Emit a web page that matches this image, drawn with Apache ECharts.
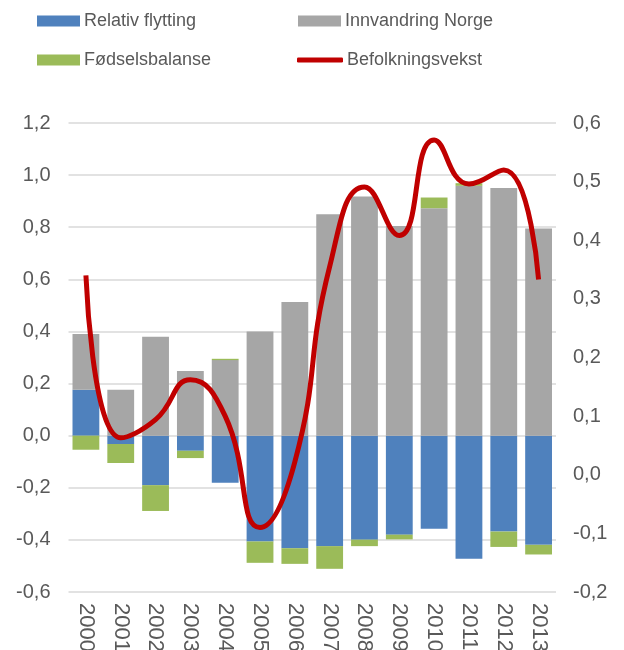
<!DOCTYPE html>
<html>
<head>
<meta charset="utf-8">
<script src="https://cdn.jsdelivr.net/npm/echarts@6/dist/echarts.min.js"></script>
<style>
  html, body { margin: 0; padding: 0; background: #fff; }
  #chart { width: 624px; height: 650px; }
</style>
</head>
<body>
<div id="chart"></div>
<script>
var years = ['2000', '2001', '2002', '2003', '2004', '2005', '2006', '2007', '2008', '2009', '2010', '2011', '2012', '2013'];
var relativFlytting = [0.176, -0.032, -0.19, -0.058, -0.181, -0.406, -0.432, -0.424, -0.399, -0.38, -0.357, -0.472, -0.368, -0.419];
var innvandring = [0.214, 0.176, 0.38, 0.248, 0.29, 0.40, 0.513, 0.85, 0.918, 0.805, 0.873, 0.959, 0.951, 0.795];
var fodselsbalanse = [-0.054, -0.073, -0.099, -0.028, 0.005, -0.082, -0.06, -0.087, -0.025, -0.018, 0.041, 0.01, -0.059, -0.037];
var befolkningsvekst = [0.34, 0.063, 0.094, 0.162, 0.10, -0.09, 0.022, 0.355, 0.491, 0.408, 0.571, 0.496, 0.52, 0.333];

var font = 'Liberation Sans, Arial, sans-serif';
var textColor = '#595959';

function comma(v) {
    return v.toFixed(1).replace('.', ',');
}

function legendAt(name, left, top, w, h, icon) {
    return {
        data: [{ name: name, icon: icon }],
        left: left,
        top: top,
        itemWidth: w,
        itemHeight: h,
        itemGap: 0,
        padding: 0,
        selectedMode: false,
        textStyle: { fontFamily: font, fontSize: 18, color: textColor, padding: [0, 0, 0, -1] }
    };
}

var myChart = echarts.init(document.getElementById('chart'), null, { renderer: 'canvas' });

var option = {
    animation: false,
    legend: [
        legendAt('Relativ flytting', 37, 12, 43, 11, 'rect'),
        legendAt('Innvandring Norge', 298, 12, 43, 11, 'rect'),
        legendAt('Fødselsbalanse', 37, 51, 43, 11, 'rect'),
        legendAt('Befolkningsvekst', 297, 51, 46, 5, 'roundRect')
    ],
    grid: { left: 68.5, right: 68, top: 123, bottom: 58, containLabel: false, outerBoundsMode: 'none' },
    xAxis: {
        type: 'category',
        data: years,
        axisLine: { show: false },
        axisTick: { show: false },
        axisLabel: {
            rotate: -90,
            margin: 11,
            fontFamily: font,
            fontSize: 22,
            color: textColor
        }
    },
    yAxis: [
        {
            type: 'value',
            min: -0.6,
            max: 1.2,
            interval: 0.2,
            axisLine: { show: false },
            axisTick: { show: false },
            splitLine: { lineStyle: { color: '#d9d9d9', width: 1.5 } },
            axisLabel: { formatter: comma, margin: 18, fontFamily: font, fontSize: 20, color: textColor }
        },
        {
            type: 'value',
            min: -0.2,
            max: 0.6,
            interval: 0.1,
            axisLine: { show: false },
            axisTick: { show: false },
            splitLine: { show: false },
            axisLabel: { formatter: comma, margin: 17, fontFamily: font, fontSize: 20, color: textColor }
        }
    ],
    series: [
        {
            name: 'Relativ flytting',
            type: 'bar',
            stack: 'tot',
            barCategoryGap: '23%',
            itemStyle: { color: '#4f81bd' },
            data: relativFlytting
        },
        {
            name: 'Innvandring Norge',
            type: 'bar',
            stack: 'tot',
            itemStyle: { color: '#a6a6a6' },
            data: innvandring
        },
        {
            name: 'Fødselsbalanse',
            type: 'bar',
            stack: 'tot',
            itemStyle: { color: '#9bbb59' },
            data: fodselsbalanse
        },
        {
            name: 'Befolkningsvekst',
            type: 'line',
            yAxisIndex: 1,
            smooth: 0.5,
            symbol: 'none',
            z: 5,
            lineStyle: { color: '#c00000', width: 5 },
            itemStyle: { color: '#c00000' },
            data: befolkningsvekst
        }
    ]
};

myChart.setOption(option);
</script>
</body>
</html>
